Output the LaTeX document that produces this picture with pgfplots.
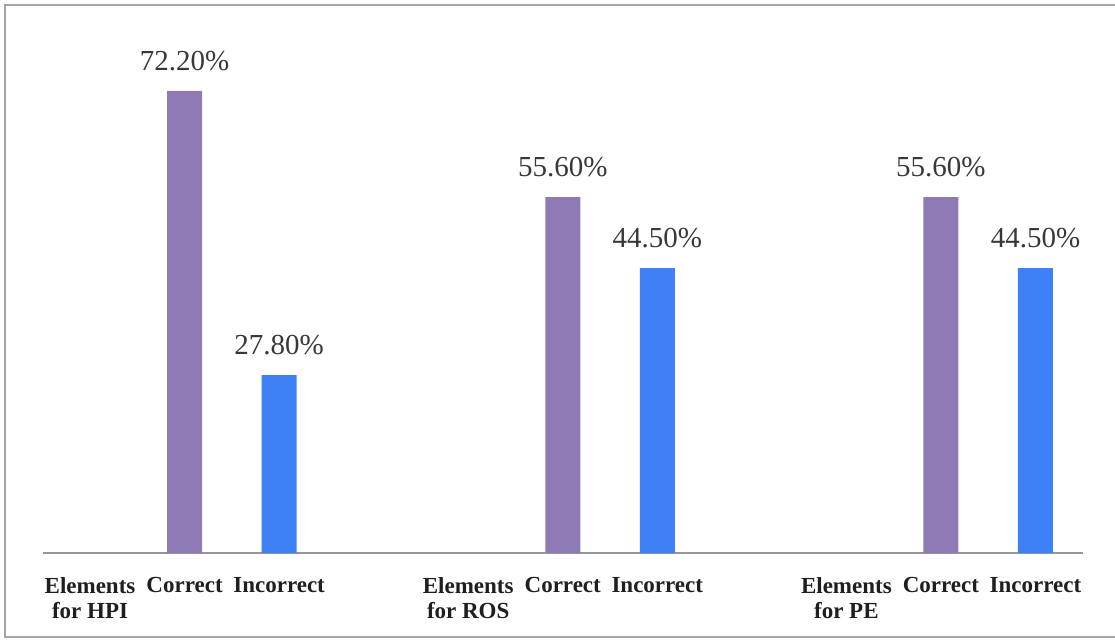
\documentclass[border=0pt]{standalone}
\usepackage{fontspec}
\setmainfont{Liberation Serif}
\usepackage{pgfplots}
\pgfplotsset{compat=1.18}
\definecolor{barpurple}{RGB}{142,122,180}
\definecolor{barblue}{RGB}{62,128,246}
\definecolor{framegray}{RGB}{165,165,165}
\definecolor{axisgray}{RGB}{150,150,150}
\begin{document}
\begin{tikzpicture}
\path[use as bounding box] (-42.75pt,-87pt) rectangle (1072.25pt,553pt);
\draw[framegray, line width=2.2pt] (1090pt,548pt) -- (-37.75pt,548pt) -- (-37.75pt,-84pt) -- (1090pt,-84pt);
\begin{axis}[
  at={(0pt,0pt)}, anchor=south west,
  scale only axis, width=1040pt, height=512pt,
  xmin=-0.5, xmax=10.5, ymin=0, ymax=80,
  axis x line=bottom, axis y line=none,
  x axis line style={-, axisgray, line width=2pt},
  xtick={0,1,2,4,5,6,8,9,10},
  xticklabels={{Elements\\for HPI},Correct,Incorrect,{Elements\\for ROS},Correct,Incorrect,{Elements\\for PE},Correct,Incorrect},
  major tick length=0pt, ytick=\empty,
  xticklabel style={font=\bfseries\fontsize{23pt}{25pt}\selectfont, text=black!88, align=center, inner sep=0pt, anchor=north},
  xticklabel shift=24pt,
  ybar, bar width=35pt,
  clip=false,
  nodes near coords, point meta=explicit symbolic,
  every node near coord/.append style={font=\fontsize{29pt}{30pt}\selectfont, text=black!78, inner sep=0pt, anchor=south, yshift=20pt},
]
\addplot[fill=barpurple, draw=none, bar shift=0pt] coordinates {(1,72.2) [72.20\%] (5,55.6) [55.60\%] (9,55.6) [55.60\%]};
\addplot[fill=barblue, draw=none, bar shift=0pt] coordinates {(2,27.8) [27.80\%] (6,44.5) [44.50\%] (10,44.5) [44.50\%]};
\end{axis}
\end{tikzpicture}
\end{document}
